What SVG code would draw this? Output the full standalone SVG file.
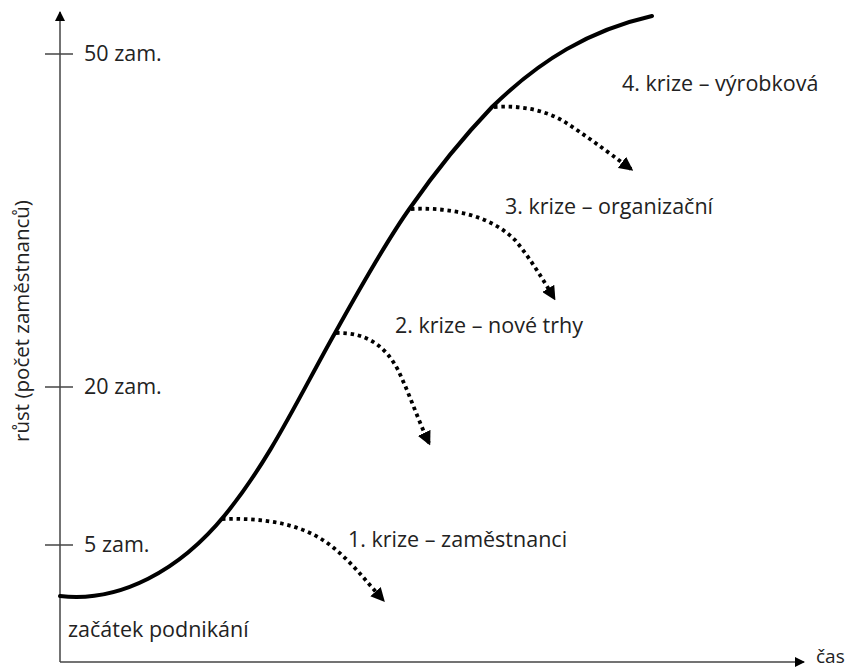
<svg xmlns="http://www.w3.org/2000/svg" width="852" height="669" viewBox="0 0 852 669">
<defs>
<style>
text{font-family:"Open Sans","Noto Sans","Liberation Sans",sans-serif;font-size:21.5px;fill:#222}
.axis{stroke:#444;stroke-width:1.5;fill:none}
.curve{stroke:#000;stroke-width:4;fill:none;stroke-linecap:round}
.dot{stroke:#000;stroke-width:3.8;fill:none;stroke-dasharray:3.5 3.8}
</style>
<marker id="ah" viewBox="0 0 10 10" refX="9" refY="5" markerWidth="10" markerHeight="10" markerUnits="userSpaceOnUse" orient="auto">
<path d="M0,0 L10,5 L0,10 z" fill="#000"/>
</marker>
<marker id="dh" viewBox="0 0 10 10" refX="8" refY="5" markerWidth="14" markerHeight="14" markerUnits="userSpaceOnUse" orient="auto">
<path d="M0,0 L10,5 L0,10 z" fill="#000"/>
</marker>
</defs>
<rect width="852" height="669" fill="#fff"/>
<g id="axes">
<line class="axis" x1="60" y1="662" x2="60" y2="12" marker-end="url(#ah)"/>
<line class="axis" x1="60" y1="662" x2="804" y2="662" marker-end="url(#ah)"/>
<line class="axis" x1="45" y1="54" x2="73" y2="54"/>
<line class="axis" x1="45" y1="387" x2="73" y2="387"/>
<line class="axis" x1="45" y1="545" x2="73" y2="545"/>
<text x="84" y="61">50 zam.</text>
<text x="84" y="394">20 zam.</text>
<text x="84" y="552">5 zam.</text>
<text x="816" y="663" style="font-size:19px">čas</text>
<text transform="translate(29,321) rotate(-90)" text-anchor="middle" style="font-size:20.5px">růst (počet zaměstnanců)</text>
<text x="68" y="637">začátek podnikání</text>
</g>
<g id="curve">
<path class="curve" d="M60,596 C120,603 180,570 225,515 C270,460 300,395 335,333 C370,270 390,236 410,208 C440,165 470,130 492,107 C540,60 590,30 652,16"/>
</g>
<g id="connectors">
<path class="dot" d="M222,519 C260,518 300,522 330,545 C350,560 365,580 383,600" marker-end="url(#dh)"/>
<path class="dot" d="M336,333 C365,332 385,345 398,370 C410,395 418,420 429,443" marker-end="url(#dh)"/>
<path class="dot" d="M411,209 C450,207 490,215 515,240 C530,258 542,278 554,298" marker-end="url(#dh)"/>
<path class="dot" d="M494,107 C520,105 545,110 565,122 C585,135 605,150 631,169" marker-end="url(#dh)"/>
</g>
<g id="labels">
<text x="348" y="547">1. krize – zaměstnanci</text>
<text x="395" y="333">2. krize – nové trhy</text>
<text x="505" y="214">3. krize – organizační</text>
<text x="622" y="91">4. krize – výrobková</text>
</g>
</svg>
